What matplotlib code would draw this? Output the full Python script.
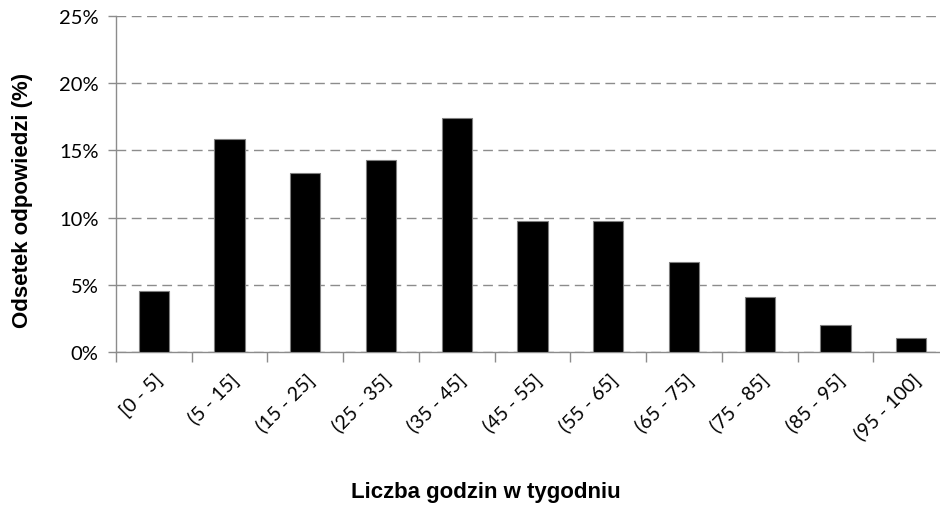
import matplotlib
matplotlib.use("Agg")
import matplotlib.pyplot as plt
import matplotlib.transforms as mtransforms
import numpy as np
from matplotlib.ticker import FuncFormatter, FixedLocator

categories = ["[0 - 5]", "(5 - 15]", "(15 - 25]", "(25 - 35]", "(35 - 45]", "(45 - 55]",
              "(55 - 65]", "(65 - 75]", "(75 - 85]", "(85 - 95]", "(95 - 100]"]
values = [4.55, 15.85, 13.32, 14.31, 17.42, 9.72, 9.72, 6.66, 4.05, 2.01, 1.0]
yticks = [0, 5, 10, 15, 20, 25]

fig = plt.figure(figsize=(9.4, 5.06), dpi=100)
ax = fig.add_axes([116/940, 1-352.7/506, (949-116)/940, (352.7-17.3)/506])

x = np.arange(len(categories))
ax.bar(x, values, width=0.4, color="black", edgecolor="#7f7f7f", linewidth=0.8, zorder=3)

ax.set_xlim(-0.5, len(categories)-0.5)
ax.set_ylim(0, 25)
ax.set_yticks(yticks)
ax.yaxis.set_major_formatter(FuncFormatter(lambda v, p: f"{int(v)}%"))
ax.grid(axis="y", color="#8c8c8c", linestyle=(0, (7, 4)), linewidth=1.0, zorder=0)
ax.set_axisbelow(True)

for s in ["top", "right"]:
    ax.spines[s].set_visible(False)
for s in ["left", "bottom"]:
    ax.spines[s].set_color("#8c8c8c")
    ax.spines[s].set_linewidth(1.0)

ax.set_xticks(x)
ax.set_xticklabels(categories, rotation=45, ha="right", rotation_mode="anchor",
                   fontsize=14, family="Lato")
offset = mtransforms.ScaledTranslation(8/100, 0, fig.dpi_scale_trans)
for lab in ax.get_xticklabels():
    lab.set_transform(lab.get_transform() + offset)
ax.xaxis.set_minor_locator(FixedLocator(np.arange(-0.5, len(categories), 1.0)))
ax.tick_params(axis="x", which="major", length=0, pad=13)
ax.tick_params(axis="x", which="minor", length=7, color="#8c8c8c", width=1.0)
ax.tick_params(axis="y", length=6, color="#8c8c8c", width=1.0, pad=6.5)
for lab in ax.get_yticklabels():
    lab.set_family("Lato")
    lab.set_fontsize(14.5)

fig.text(23/940, 1-200/506, "Odsetek odpowiedzi (%)", fontsize=16, fontweight="bold",
         family="Liberation Sans", ha="center", va="center", rotation=90)
fig.text(486/940, 1-498/506, "Liczba godzin w tygodniu", fontsize=16, fontweight="bold",
         family="Liberation Sans", ha="center", va="baseline")

fig.savefig("out.png", dpi=100)
